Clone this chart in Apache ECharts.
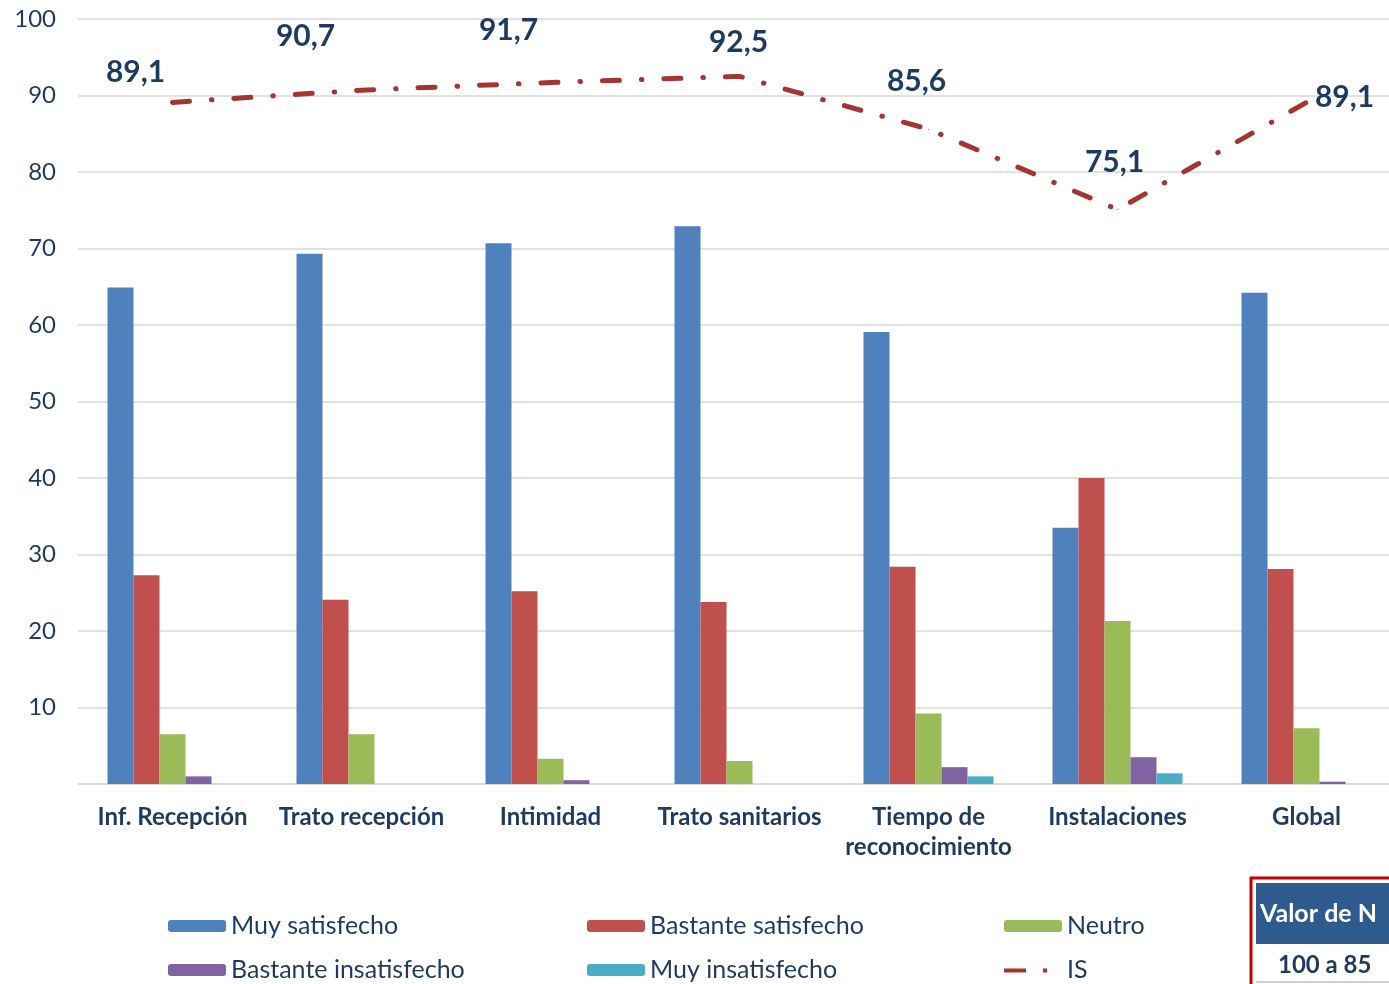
<!DOCTYPE html>
<html>
<head>
<meta charset="utf-8">
<script src="https://cdn.jsdelivr.net/npm/echarts@6/dist/echarts.min.js"></script>
<style>
  html, body { margin: 0; padding: 0; background: #fff; }
  #chart { width: 1389px; height: 984px; }
</style>
</head>
<body>
<div id="chart"></div>
<script>
const categories = ['Inf. Recepción', 'Trato recepción', 'Intimidad', 'Trato sanitarios', 'Tiempo de\nreconocimiento', 'Instalaciones', 'Global']
const muySatisfecho = [64.9, 69.3, 70.7, 72.9, 59.1, 33.5, 64.2]
const bastanteSatisfecho = [27.3, 24.1, 25.2, 23.8, 28.4, 40.0, 28.1]
const neutro = [6.5, 6.5, 3.3, 3.0, 9.2, 21.3, 7.3]
const bastanteInsatisfecho = [1.0, 0, 0.5, 0, 2.2, 3.5, 0.3]
const muyInsatisfecho = [0, 0, 0, 0, 1.0, 1.4, 0]
const indiceSatisfaccion = [89.1, 90.7, 91.7, 92.5, 85.6, 75.1, 89.1]
const yTicks = [10, 20, 30, 40, 50, 60, 70, 80, 90, 100]

const navy = '#1F3A5F'
const lineRed = '#A33535'
const chart = echarts.init(document.getElementById('chart'))

// label placement for the IS values (hand-placed in the original)
const isOffsets = [[-37, -30], [-56, -54], [-42, -52], [-1, -34], [-12, -48], [-3, -47], [38, -5]]

const barSeries = (name, data, color) => ({
  name,
  type: 'bar',
  data,
  barWidth: 26,
  barGap: '0%',
  itemStyle: { color },
  emphasis: { disabled: true }
})

const legendBase = {
  orient: 'vertical',
  top: 913,
  padding: 0,
  itemWidth: 58,
  itemHeight: 12,
  itemGap: 18,
  textStyle: { fontFamily: 'Lato', fontSize: 25, lineHeight: 26, color: navy },
  selectedMode: false
}

// dash + dot icon for the IS legend entry (corner specks keep the 58x12 box)
const isIcon = 'path://M0,0h0.01v0.01h-0.01z M57.99,11.99h0.01v0.01h-0.01z M0,4.5h22v4h-22z M39,4.5h4v4h-4z'

chart.setOption({
  animation: false,
  backgroundColor: '#fff',
  grid: { left: 78, top: 19, width: 1323, height: 765, outerBoundsMode: 'none' },
  legend: [
    Object.assign({}, legendBase, { left: 168, data: ['Muy satisfecho', 'Bastante insatisfecho'] }),
    Object.assign({}, legendBase, { left: 587, data: ['Bastante satisfecho', 'Muy insatisfecho'] }),
    Object.assign({}, legendBase, { left: 1004, data: ['Neutro', { name: 'IS', icon: isIcon }] })
  ],
  xAxis: {
    type: 'category',
    data: categories,
    axisTick: { show: false },
    axisLine: { lineStyle: { color: '#D9D9D9', width: 1.5 } },
    axisLabel: {
      margin: 18,
      fontFamily: 'Lato',
      fontSize: 24,
      fontWeight: 'bold',
      color: navy,
      lineHeight: 30,
      interval: 0
    }
  },
  yAxis: {
    type: 'value',
    min: 0,
    max: 100,
    interval: 10,
    axisLine: { show: false },
    axisTick: { show: false },
    splitLine: { lineStyle: { color: '#D9D9D9', width: 1.5 } },
    axisLabel: {
      showMinLabel: false,
      margin: 22,
      fontFamily: 'Lato',
      fontSize: 24,
      color: navy,
      formatter: v => (yTicks.includes(v) ? String(v) : '')
    }
  },
  series: [
    barSeries('Muy satisfecho', muySatisfecho, '#4F81BD'),
    barSeries('Bastante satisfecho', bastanteSatisfecho, '#C0504D'),
    barSeries('Neutro', neutro, '#9BBB59'),
    barSeries('Bastante insatisfecho', bastanteInsatisfecho, '#8064A2'),
    barSeries('Muy insatisfecho', muyInsatisfecho, '#4BACC6'),
    {
      name: 'IS',
      type: 'line',
      data: indiceSatisfaccion.map((v, i) => ({
        value: v,
        label: { offset: isOffsets[i] }
      })),
      symbol: 'circle',
      symbolSize: 1,
      showSymbol: true,
      z: 5,
      itemStyle: { color: lineRed },
      lineStyle: { color: lineRed, width: 5, type: [17, 22, 0.5, 22], cap: 'round' },
      label: {
        show: true,
        position: 'inside',
        fontFamily: 'Lato',
        fontSize: 30,
        fontWeight: 'bold',
        color: navy,
        formatter: p => String(p.value).replace('.', ',')
      },
      emphasis: { disabled: true }
    }
  ],
  graphic: [
    {
      type: 'rect',
      shape: { x: 1251, y: 878, width: 160, height: 120 },
      style: { fill: '#fff', stroke: '#C00000', lineWidth: 3 }
    },
    {
      type: 'rect',
      shape: { x: 1256, y: 883, width: 140, height: 61 },
      style: { fill: '#2E5A8E' }
    },
    {
      type: 'line',
      shape: { x1: 1256, y1: 982, x2: 1389, y2: 982 },
      style: { stroke: '#BFBFBF', lineWidth: 1.5 }
    },
    {
      type: 'text',
      x: 1260,
      y: 914,
      style: {
        text: 'Valor de N',
        fill: '#fff',
        font: 'bold 25px Lato',
        textVerticalAlign: 'middle'
      }
    },
    {
      type: 'text',
      x: 1278,
      y: 965,
      style: {
        text: '100 a 85',
        fill: navy,
        font: 'bold 24px Lato',
        textVerticalAlign: 'middle'
      }
    }
  ]
})
</script>
</body>
</html>
